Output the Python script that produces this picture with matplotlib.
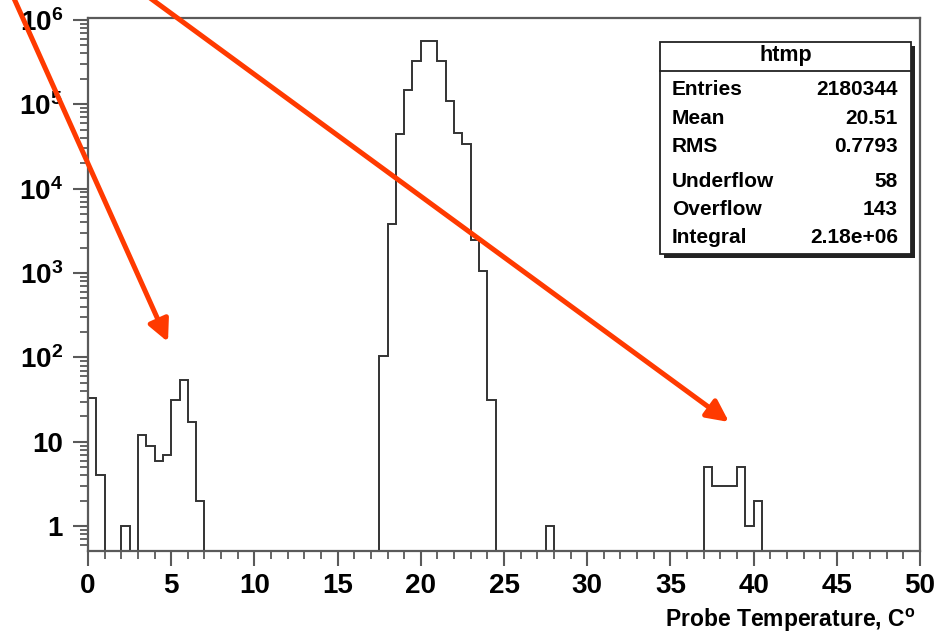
import numpy as np
import matplotlib
matplotlib.use("Agg")
import matplotlib.pyplot as plt
from matplotlib.patches import FancyArrowPatch, Rectangle
from matplotlib.ticker import FixedLocator, LogLocator, MultipleLocator, NullFormatter

plt.rcParams['font.family'] = ['Liberation Sans', 'DejaVu Sans']
plt.rcParams['font.weight'] = 'bold'
plt.rcParams['mathtext.fontset'] = 'custom'
plt.rcParams['mathtext.rm'] = 'Liberation Sans:bold'
plt.rcParams['mathtext.bf'] = 'Liberation Sans:bold'
plt.rcParams['mathtext.default'] = 'bf'

# ---- data (0.5-wide bins, only non-empty bins listed) ----
bin_starts = [0.0, 0.5, 2.0, 3.0, 3.5, 4.0, 4.5, 5.0, 5.5, 6.0, 6.5,
              17.5, 18.0, 18.5, 19.0, 19.5, 20.0, 20.5, 21.0, 21.5, 22.0,
              22.5, 23.0, 23.5, 24.0, 27.5, 37.0, 37.5, 38.0, 38.5, 39.0,
              39.5, 40.0]
counts = [33, 4, 1, 12, 9, 6, 7, 31, 54, 17, 2,
          105, 3850, 44400, 145600, 327000, 564000, 564000, 327000, 108000, 45600,
          33800, 2430, 1070, 31, 1, 5, 3, 3, 3, 5,
          1, 2]
bin_width = 0.5
x_range = (0, 50)
y_range = (0.51, 1.05e6)

ytick_vals = [1, 10, 1e2, 1e3, 1e4, 1e5, 1e6]
ytick_labels = ['1', '10', r'$10^{2}$', r'$10^{3}$', r'$10^{4}$', r'$10^{5}$', r'$10^{6}$']
xtick_vals = [0, 5, 10, 15, 20, 25, 30, 35, 40, 45, 50]

stats_title = 'htmp'
stats_names = ['Entries', 'Mean', 'RMS', 'Underflow', 'Overflow', 'Integral']
stats_values = ['2180344', '20.51', '0.7793', '58', '143', '2.18e+06']

# ---- build histogram arrays ----
nbins = int(round((x_range[1] - x_range[0]) / bin_width))
edges = x_range[0] + bin_width * np.arange(nbins + 1)
values = np.zeros(nbins)
for s, c in zip(bin_starts, counts):
    values[int(round((s - x_range[0]) / bin_width))] = c

W, H = 947, 636
fig = plt.figure(figsize=(W / 100, H / 100), dpi=100)
ax = fig.add_axes([88 / W, 1 - 551 / H, (920 - 88) / W, (551 - 18) / H])

ax.stairs(values, edges, baseline=0, color='#333333', linewidth=1.4)
ax.set_yscale('log')
ax.set_xlim(*x_range)
ax.set_ylim(*y_range)

frame_col = '#5a5a5a'
for sp in ax.spines.values():
    sp.set_color(frame_col)
    sp.set_linewidth(1.6)

ax.yaxis.set_major_locator(FixedLocator(ytick_vals))
ax.set_yticklabels(ytick_labels)
ax.yaxis.set_minor_locator(LogLocator(base=10, subs=np.arange(2, 10)))
ax.yaxis.set_minor_formatter(NullFormatter())
ax.xaxis.set_major_locator(FixedLocator(xtick_vals))
ax.set_xticklabels([str(v) for v in xtick_vals])
ax.xaxis.set_minor_locator(MultipleLocator(1))

ax.tick_params(axis='both', which='major', direction='out', length=11, width=1.5,
               color=frame_col, labelsize=20)
ax.tick_params(axis='both', which='minor', direction='out', length=5.5, width=1.3,
               color=frame_col)
ax.tick_params(axis='x', which='major', pad=5)
ax.tick_params(axis='y', which='major', pad=7)
for lab in ax.get_xticklabels() + ax.get_yticklabels():
    lab.set_fontweight('bold')

# x axis title
fig.text(915 / W, 1 - 627 / H, r'Probe Temperature, C$^{o}$', ha='right', va='baseline',
         fontsize=16.5, fontweight='bold')

# ---- stats box ----
def px(x, y):
    return (x / W, 1 - y / H)

bx0, bx1, by0, by1 = 660, 911, 42, 254
sh = 3.5
fig.patches.append(Rectangle(px(bx0 + sh, by1 + sh), (bx1 - bx0) / W, (by1 - by0) / H,
                             transform=fig.transFigure, facecolor='#222222',
                             edgecolor='none', zorder=4))
fig.patches.append(Rectangle(px(bx0, by1), (bx1 - bx0) / W, (by1 - by0) / H,
                             transform=fig.transFigure, facecolor='white',
                             edgecolor='#222222', linewidth=1.3, zorder=5))
fig.add_artist(plt.Line2D([bx0 / W, bx1 / W], [1 - 70.5 / H, 1 - 70.5 / H],
                          transform=fig.transFigure, color='#222222', linewidth=1.3,
                          zorder=6))
fig.text(*px((bx0 + bx1) / 2, 56), stats_title, ha='center', va='center', fontsize=15.5,
         fontweight='bold', zorder=7)
row_base = [95, 124, 152, 187, 215, 243]
for name, val, yb in zip(stats_names, stats_values, row_base):
    fig.text(*px(672, yb), name, ha='left', va='baseline', fontsize=15,
             fontweight='bold', zorder=7)
    fig.text(*px(898, yb), val, ha='right', va='baseline', fontsize=15,
             fontweight='bold', zorder=7)

# ---- red annotation arrows ----
red = '#ff3a00'
for (x0, y0), (x1, y1) in [((12, -6), (168, 342)), ((146, -5), (729, 422))]:
    arr = FancyArrowPatch(px(x0, y0), px(x1, y1), transform=fig.transFigure,
                          arrowstyle='-|>,head_length=0.65,head_width=0.32',
                          mutation_scale=20, color=red, linewidth=3.6,
                          shrinkA=0, shrinkB=0, zorder=10)
    fig.patches.append(arr)

fig.savefig('out.png', dpi=100)
